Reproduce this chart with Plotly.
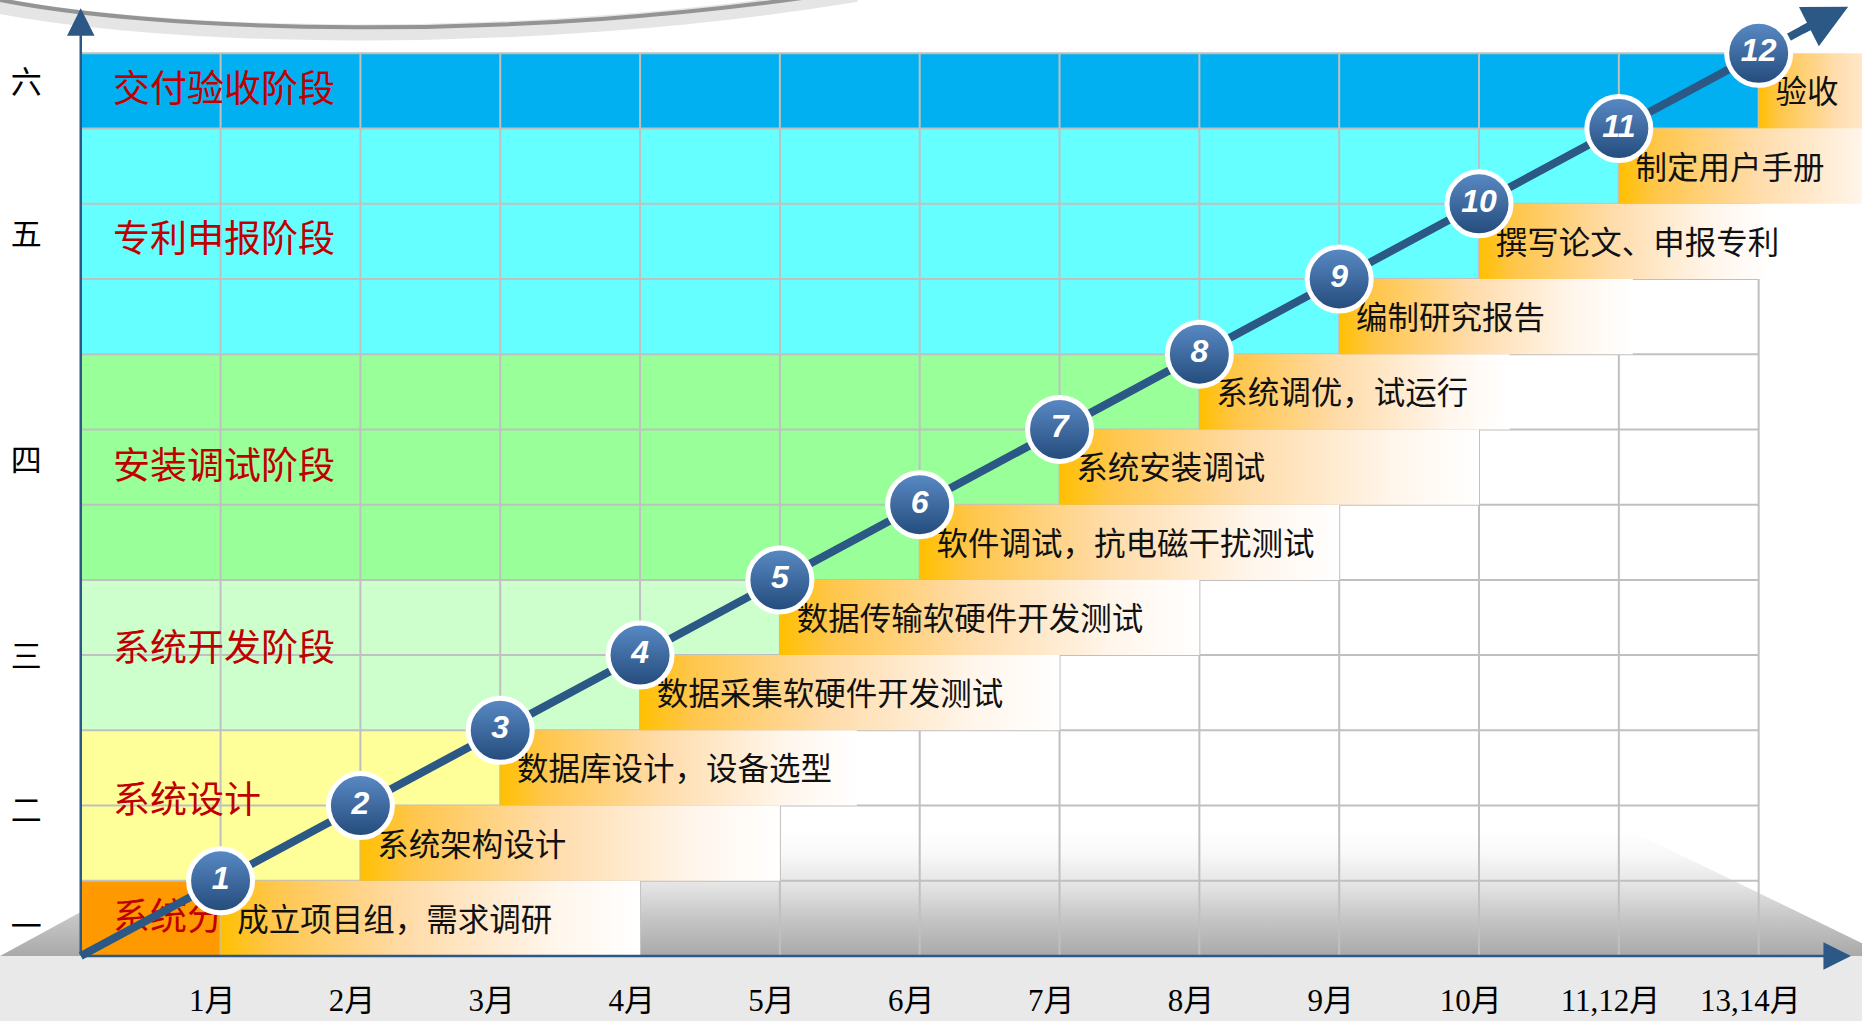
import plotly.graph_objects as go

# ---------------- data ----------------
MONTH_LABELS = ["1月", "2月", "3月", "4月", "5月", "6月", "7月", "8月",
                "9月", "10月", "11,12月", "13,14月"]
MILESTONE_NO = ["1", "2", "3", "4", "5", "6", "7", "8", "9", "10", "11", "12"]
MILESTONE_POS = [1, 2, 3, 4, 5, 6, 7, 8, 9, 10, 11, 12]   # month slot of each milestone
TASKS = ["成立项目组，需求调研", "系统架构设计", "数据库设计，设备选型",
         "数据采集软硬件开发测试", "数据传输软硬件开发测试", "软件调试，抗电磁干扰测试",
         "系统安装调试", "系统调优，试运行", "编制研究报告", "撰写论文、申报专利",
         "制定用户手册", "验收"]
TASK_END = [4, 5, 5.55, 7, 8, 9, 10, 10.22, 11.1, 12.1, 13.2, 13.2]
PHASES = ["系统分析阶段", "系统设计", "系统开发阶段", "安装调试阶段", "专利申报阶段", "交付验收阶段"]
PHASE_NUMERALS = ["一", "二", "三", "四", "五", "六"]
PHASE_FIRST_ROW = [1, 2, 4, 6, 9, 12]
PHASE_LAST_ROW = [1, 3, 5, 8, 11, 12]

# ---------------- styles ----------------
PHASE_COLORS = ["#FF9900", "#FFFF99", "#CCFFCC", "#99FF99", "#66FFFF", "#00B0F0"]
PHASE_LABEL_Y = [0.47, 2.02, 4.05, 6.47, 9.48, 11.48]
NUMERAL_Y = [0.35, 1.9, 3.95, 6.55, 9.56, 11.57]
BLUE = "#2C5886"
GRID = "#C0C0C0"
CJK = "Noto Sans CJK SC"
N = len(MILESTONE_POS)
X_RANGE = [-0.5775, 12.739]
Y_RANGE = [-0.864, 12.709]

fig = go.Figure()

# floor (perspective shading)
fig.add_trace(go.Scatter(
    x=[X_RANGE[0], 1.08, 11.07, X_RANGE[1], X_RANGE[1], X_RANGE[0]],
    y=[0, 1.68, 1.68, 0.17, 0, 0],
    fill="toself", mode="lines", line=dict(width=0),
    fillgradient=dict(type="vertical", start=0, stop=1.68,
                      colorscale=[[0, "#A9A9A9"], [0.3, "#C6C6C6"], [0.55, "#E3E3E3"],
                                  [0.8, "#F8F8F8"], [1, "#FFFFFF"]]),
    hoverinfo="skip"))

# phase coloured cells (staircase)
for p in range(len(PHASES)):
    for r in range(PHASE_FIRST_ROW[p], PHASE_LAST_ROW[p] + 1):
        xe = MILESTONE_POS[r - 1]
        fig.add_trace(go.Scatter(
            x=[0, xe, xe, 0, 0], y=[r - 1, r - 1, r, r, r - 1],
            fill="toself", fillcolor=PHASE_COLORS[p], mode="lines",
            line=dict(width=0), hoverinfo="skip"))

# grid
gx, gy = [], []
for i in range(1, N + 1):
    gx += [i, i, None]
    gy += [0, N, None]
    gx += [0, N, None]
    gy += [i, i, None]
fig.add_trace(go.Scatter(x=gx, y=gy, mode="lines", line=dict(color=GRID, width=2),
                         hoverinfo="skip"))

# phase labels (red) - drawn before the task bars
fig.add_trace(go.Scatter(
    x=[0.23] * len(PHASES), y=PHASE_LABEL_Y, text=PHASES, mode="text",
    textposition="middle right",
    textfont=dict(family=CJK, size=37, color="#C00000"), hoverinfo="skip"))

# task bars with gradient
for i in range(N):
    x0, x1 = MILESTONE_POS[i], TASK_END[i]
    y0, y1 = i, i + 1
    fig.add_trace(go.Scatter(
        x=[x0, x1, x1, x0, x0], y=[y0, y0, y1, y1, y0],
        fill="toself", mode="lines", line=dict(width=0),
        fillgradient=dict(type="horizontal", start=x0, stop=x1,
                          colorscale=[[0, "#FFC000"], [0.12, "#FFC64A"], [0.45, "#FFDCAA"],
                                      [0.8, "#FFF6EC"], [1, "#FFFFFF"]]),
        hoverinfo="skip"))

# task texts
fig.add_trace(go.Scatter(
    x=[m + 0.12 for m in MILESTONE_POS], y=[k + 1 - 0.56 for k in range(N)],
    text=TASKS, mode="text", textposition="middle right",
    textfont=dict(family=CJK, size=31.5, color="#111111"), hoverinfo="skip"))

# milestone line
fig.add_trace(go.Scatter(
    x=[0] + MILESTONE_POS + [12.45], y=[0] + MILESTONE_POS + [12.45],
    mode="lines", line=dict(color=BLUE, width=8), hoverinfo="skip"))

# milestone circles
fig.add_trace(go.Scatter(
    x=MILESTONE_POS, y=MILESTONE_POS, text=MILESTONE_NO, mode="markers+text",
    textposition="middle center",
    marker=dict(size=64, color="#5A8BC6", line=dict(color="white", width=5),
                gradient=dict(type="vertical", color="#234A7A")),
    textfont=dict(family="Liberation Sans Narrow, Arial Narrow, sans-serif", size=32,
                  color="white", weight="bold", style="italic"),
    hoverinfo="skip"))

# row numerals
fig.add_trace(go.Scatter(
    x=[-0.39] * len(PHASE_NUMERALS), y=NUMERAL_Y, text=PHASE_NUMERALS, mode="text",
    textposition="middle center",
    textfont=dict(family=CJK, size=31, color="black"), hoverinfo="skip"))

# month labels
fig.add_trace(go.Scatter(
    x=[m - 0.06 for m in MILESTONE_POS], y=[-0.625] * N, text=MONTH_LABELS, mode="text",
    textposition="middle center",
    textfont=dict(family="Liberation Serif, " + CJK, size=31, color="black"),
    hoverinfo="skip"))

annotations = [
    # y axis arrow
    dict(x=0, y=12.6, ax=0, ay=0, xref="x", yref="y", axref="x", ayref="y",
         text="", showarrow=True, arrowhead=2, arrowsize=2.2, arrowwidth=2.5, arrowcolor=BLUE),
    # x axis arrow
    dict(x=12.66, y=0, ax=0, ay=0, xref="x", yref="y", axref="x", ayref="y",
         text="", showarrow=True, arrowhead=2, arrowsize=2.2, arrowwidth=2.5, arrowcolor=BLUE),
    # milestone arrow head
    dict(x=12.64, y=12.62, ax=12.3, ay=12.3, xref="x", yref="y", axref="x", ayref="y",
         text="", showarrow=True, arrowhead=2, arrowsize=1.1, arrowwidth=8, arrowcolor=BLUE),
]

shapes = [
    dict(type="rect", xref="paper", yref="y", x0=0, x1=1, y0=Y_RANGE[0], y1=0,
         fillcolor="#E9E9E9", line=dict(width=0), layer="below"),
    dict(type="path", xref="paper", yref="paper",
         path="M -0.01,0.998 C 0.08,0.962 0.28,0.952 0.46,1.006",
         line=dict(color="rgba(170,170,170,0.3)", width=16), layer="below"),
    dict(type="path", xref="paper", yref="paper",
         path="M -0.01,1.004 C 0.08,0.967 0.28,0.957 0.46,1.01",
         line=dict(color="rgba(120,120,120,0.75)", width=4), layer="below"),
]

fig.update_layout(
    width=1862, height=1021, margin=dict(l=0, r=0, t=0, b=0),
    paper_bgcolor="white", plot_bgcolor="white", showlegend=False,
    xaxis=dict(range=X_RANGE, visible=False, fixedrange=True),
    yaxis=dict(range=Y_RANGE, visible=False, fixedrange=True),
    annotations=annotations, shapes=shapes,
)

fig.write_html("out.html", config={"displayModeBar": False},
               post_script="document.body.style.margin='0';document.body.style.overflow='hidden';")
